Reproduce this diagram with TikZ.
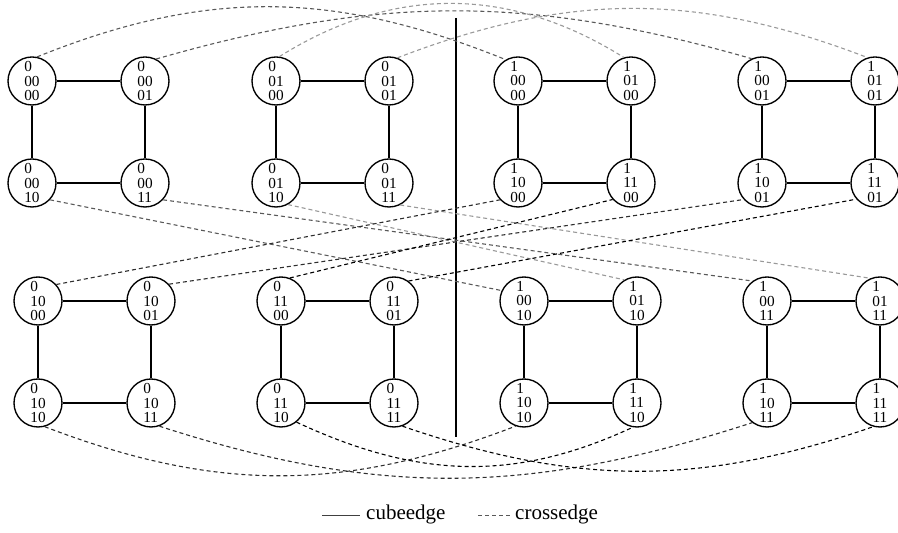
\documentclass[tikz,border=0pt]{standalone}
\usepackage{fontspec}
\setmainfont{Liberation Serif}
\begin{document}
\begin{tikzpicture}[x=1pt,y=1pt,
  vtx/.style={circle,draw,line width=1.35pt,minimum size=48pt,inner sep=0pt,align=left,font=\fontsize{15.3}{14.6}\selectfont},
  cubeline/.style={line width=1.35pt},
  crossline/.style={line width=1.1pt,dash pattern=on 4pt off 3pt},
  cA/.style={crossline,draw=black!65},
  cB/.style={crossline,draw=black!40},
  cC/.style={crossline,draw=black!82},
  cD/.style={crossline,draw=black},
  legtext/.style={anchor=base west,inner sep=0pt,font=\fontsize{21}{25}\selectfont}
]
\useasboundingbox (0,0) rectangle (898,533);
% top group
\node[vtx] (n00000) at (32,452) {0\\00\\00};
\node[vtx] (n00001) at (145,452) {0\\00\\01};
\node[vtx] (n00010) at (32,350) {0\\00\\10};
\node[vtx] (n00011) at (145,350) {0\\00\\11};
\node[vtx] (n00100) at (276,452) {0\\01\\00};
\node[vtx] (n00101) at (389,452) {0\\01\\01};
\node[vtx] (n00110) at (276,350) {0\\01\\10};
\node[vtx] (n00111) at (389,350) {0\\01\\11};
\node[vtx] (n10000) at (518,452) {1\\00\\00};
\node[vtx] (n10100) at (631,452) {1\\01\\00};
\node[vtx] (n11000) at (518,350) {1\\10\\00};
\node[vtx] (n11100) at (631,350) {1\\11\\00};
\node[vtx] (n10001) at (762,452) {1\\00\\01};
\node[vtx] (n10101) at (875,452) {1\\01\\01};
\node[vtx] (n11001) at (762,350) {1\\10\\01};
\node[vtx] (n11101) at (875,350) {1\\11\\01};
% bottom group
\node[vtx] (n01000) at (38,232) {0\\10\\00};
\node[vtx] (n01001) at (151,232) {0\\10\\01};
\node[vtx] (n01010) at (38,130) {0\\10\\10};
\node[vtx] (n01011) at (151,130) {0\\10\\11};
\node[vtx] (n01100) at (281,232) {0\\11\\00};
\node[vtx] (n01101) at (394,232) {0\\11\\01};
\node[vtx] (n01110) at (281,130) {0\\11\\10};
\node[vtx] (n01111) at (394,130) {0\\11\\11};
\node[vtx] (n10010) at (524,232) {1\\00\\10};
\node[vtx] (n10110) at (637,232) {1\\01\\10};
\node[vtx] (n11010) at (524,130) {1\\10\\10};
\node[vtx] (n11110) at (637,130) {1\\11\\10};
\node[vtx] (n10011) at (767,232) {1\\00\\11};
\node[vtx] (n10111) at (880,232) {1\\01\\11};
\node[vtx] (n11011) at (767,130) {1\\10\\11};
\node[vtx] (n11111) at (880,130) {1\\11\\11};
% cube edges
\foreach \a/\b/\c/\d in {n00000/n00001/n00010/n00011, n00100/n00101/n00110/n00111,
  n10000/n10100/n11000/n11100, n10001/n10101/n11001/n11101,
  n01000/n01001/n01010/n01011, n01100/n01101/n01110/n01111,
  n10010/n10110/n11010/n11110, n10011/n10111/n11011/n11111}
  {\draw[cubeline] (\a) -- (\b) (\a) -- (\c) (\b) -- (\d) (\c) -- (\d);}
% divider
\coordinate (dtop) at (456,515);
\coordinate (dbot) at (456,96);
\draw[line width=1.5pt] (dtop) -- (dbot);
% cross edges: top arcs
\draw[cA] (n00000.78) to[out=22,in=158] (n10000.120);
\draw[cA] (n00001.63) to[out=16,in=164] (n10001.115);
\draw[cB] (n00100.82) to[out=32,in=148] (n10100.107);
\draw[cB] (n00101.70) to[out=21,in=159] (n10101.108);
% middle lines
\draw[cA] (n00010.-43) -- (n10010.155);
\draw[cA] (n00011.-43) -- (n10011.126);
\draw[cB] (n00110.-61) -- (n10110.121);
\draw[cB] (n00111.-63) -- (n10111.113);
\draw[cC] (n01000.42) -- (n11000.-137);
\draw[cC] (n01001.43) -- (n11001.-138);
\draw[cD] (n01100.69) -- (n11100.-138);
\draw[cD] (n01101.54) -- (n11101.-139);
% bottom arcs
\draw[cC] (n01010.-74) to[out=-21,in=201] (n11010.-110);
\draw[cC] (n01011.-70) to[out=-18,in=198] (n11011.-127);
\draw[cD] (n01110.-51) to[out=-25,in=205] (n11110.-100);
\draw[cD] (n01111.-70) to[out=-19,in=199] (n11111.-106);
% legend
\coordinate (la) at (322,18);
\coordinate (lb) at (360,18);
\draw[line width=0.9pt,black!75] (la) -- (lb);
\node[legtext] (lcube) at (366,13) {cubeedge};
\coordinate (lc) at (478,18);
\coordinate (ld) at (512,18);
\draw[line width=0.9pt,black!65,dash pattern=on 4pt off 3pt] (lc) -- (ld);
\node[legtext] (lcross) at (515,13) {crossedge};
\end{tikzpicture}
\end{document}
